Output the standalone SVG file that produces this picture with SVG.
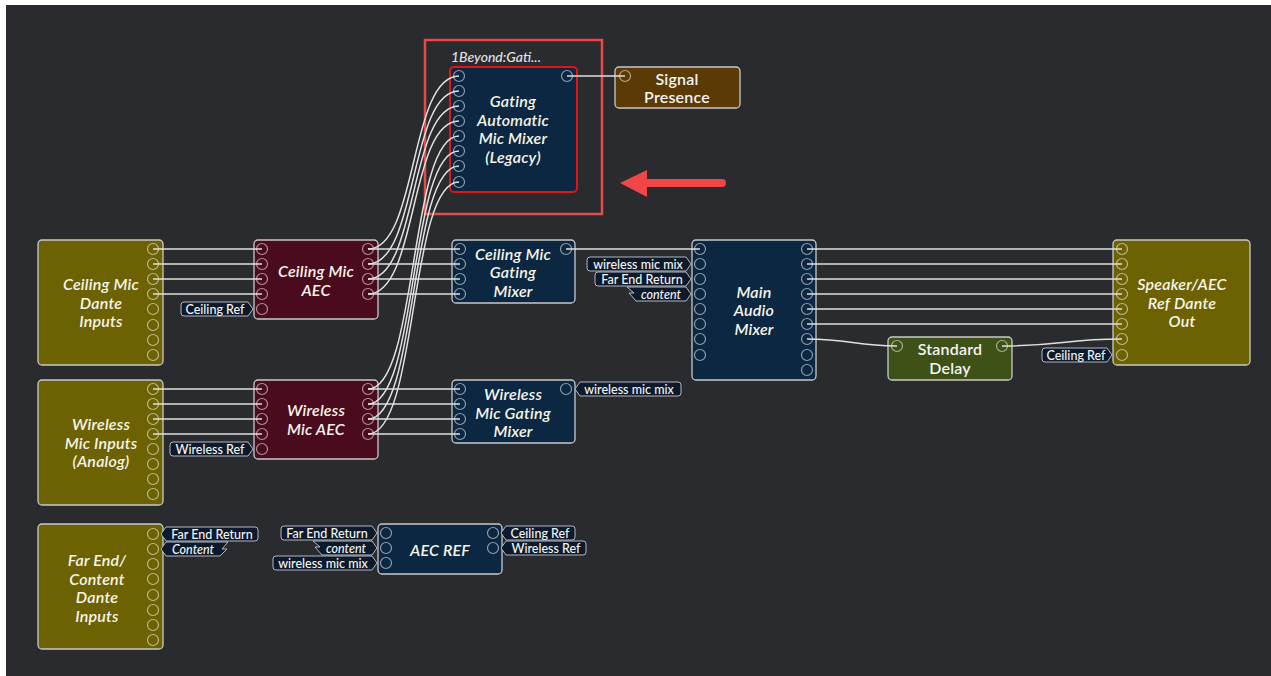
<svg xmlns="http://www.w3.org/2000/svg" width="1271" height="676" viewBox="0 0 1271 676">
<style>
.node{stroke:#c9c9c9;stroke-width:1.3}
.olive{fill:#6c6202}
.maroon{fill:#4b0b1f}
.navy{fill:#0b2741}
.brown{fill:#5c3a05}
.green{fill:#3e5116}
.port{fill:none;stroke:#ffffff;stroke-opacity:0.55;stroke-width:1.2}
.lbl{font-family:Lato,"Liberation Sans",sans-serif;font-size:16px;font-style:italic;font-weight:600;letter-spacing:0.2px;fill:#f6f4e8;text-anchor:middle}
.lbln{font-family:Lato,"Liberation Sans",sans-serif;font-size:16px;font-weight:600;letter-spacing:0.2px;fill:#f4f4f4;text-anchor:middle}
.tag{fill:#0d1a2c;stroke:#b3b8bf;stroke-width:1}
.tt{font-family:Lato,"Liberation Sans",sans-serif;font-size:12.5px;font-weight:500;fill:#f4f4f4;text-anchor:middle}
.ti{font-style:italic}
.wire{fill:none;stroke:#e0e0e0;stroke-width:1.5}
</style>
<rect x="0" y="0" width="1271" height="676" fill="#ffffff"/>
<rect x="6" y="5" width="1265" height="671" fill="#2a2b2f"/>

<g id="highlight">
<rect x="425" y="40" width="177" height="174" fill="none" stroke="#e84a4a" stroke-width="2.5"/>
<path d="M722 183 H645" stroke="#f04646" stroke-width="8" stroke-linecap="round"/>
<polygon points="620,183 647,170 647,197" fill="#f04646"/>
</g>

<g id="ceiling-mic-inputs">
<rect class="node olive" x="38" y="240" width="125" height="125" rx="4"/>
<text class="lbl" x="101" y="290">Ceiling Mic</text>
<text class="lbl" x="101" y="308.5">Dante</text>
<text class="lbl" x="101" y="327">Inputs</text>
<g class="port"><circle cx="153" cy="249" r="5.5"/><circle cx="153" cy="264" r="5.5"/><circle cx="153" cy="279" r="5.5"/><circle cx="153" cy="294" r="5.5"/><circle cx="153" cy="309" r="5.5"/><circle cx="153" cy="325" r="5.5"/><circle cx="153" cy="340" r="5.5"/><circle cx="153" cy="355" r="5.5"/></g>
</g>

<g id="ceiling-mic-aec">
<rect class="node maroon" x="254" y="240" width="124" height="79" rx="4"/>
<text class="lbl" x="316" y="277">Ceiling Mic</text>
<text class="lbl" x="316" y="295.5">AEC</text>
<g class="port"><circle cx="262" cy="249" r="5.5"/><circle cx="262" cy="264" r="5.5"/><circle cx="262" cy="279" r="5.5"/><circle cx="262" cy="294" r="5.5"/><circle cx="262" cy="309" r="5.5"/><circle cx="368" cy="249" r="5.5"/><circle cx="368" cy="264" r="5.5"/><circle cx="368" cy="279" r="5.5"/><circle cx="368" cy="294" r="5.5"/></g>
<path class="tag" d="M184 302 H248 L253 309 L248 316 H184 Q181 316 181 313 V305 Q181 302 184 302 Z"/>
<text class="tt" x="215" y="313.5">Ceiling Ref</text>
</g>

<g id="wireless-mic-inputs">
<rect class="node olive" x="38" y="380" width="125" height="125" rx="4"/>
<text class="lbl" x="101" y="430">Wireless</text>
<text class="lbl" x="101" y="448.5">Mic Inputs</text>
<text class="lbl" x="101" y="467">(Analog)</text>
<g class="port"><circle cx="153" cy="389" r="5.5"/><circle cx="153" cy="404" r="5.5"/><circle cx="153" cy="419" r="5.5"/><circle cx="153" cy="434" r="5.5"/><circle cx="153" cy="449" r="5.5"/><circle cx="153" cy="464" r="5.5"/><circle cx="153" cy="479" r="5.5"/><circle cx="153" cy="494" r="5.5"/></g>
</g>

<g id="wireless-mic-aec">
<rect class="node maroon" x="254" y="380" width="124" height="79" rx="4"/>
<text class="lbl" x="316" y="416">Wireless</text>
<text class="lbl" x="316" y="434.5">Mic AEC</text>
<g class="port"><circle cx="262" cy="389" r="5.5"/><circle cx="262" cy="404" r="5.5"/><circle cx="262" cy="419" r="5.5"/><circle cx="262" cy="434" r="5.5"/><circle cx="262" cy="449" r="5.5"/><circle cx="368" cy="389" r="5.5"/><circle cx="368" cy="404" r="5.5"/><circle cx="368" cy="419" r="5.5"/><circle cx="368" cy="434" r="5.5"/></g>
<path class="tag" d="M173 442 H248 L253 449 L248 456 H173 Q170 456 170 453 V445 Q170 442 173 442 Z"/>
<text class="tt" x="210" y="453.5">Wireless Ref</text>
</g>

<g id="far-end-inputs">
<rect class="node olive" x="38" y="524" width="125" height="125" rx="4"/>
<text class="lbl" x="97" y="566">Far End/</text>
<text class="lbl" x="97" y="584.5">Content</text>
<text class="lbl" x="97" y="603">Dante</text>
<text class="lbl" x="97" y="621.5">Inputs</text>
<g class="port"><circle cx="153" cy="534" r="5.5"/><circle cx="153" cy="549" r="5.5"/><circle cx="153" cy="564" r="5.5"/><circle cx="153" cy="579" r="5.5"/><circle cx="153" cy="595" r="5.5"/><circle cx="153" cy="610" r="5.5"/><circle cx="153" cy="625" r="5.5"/><circle cx="153" cy="640" r="5.5"/></g>
<path class="tag" d="M161 534 L166 527 H255 Q258 527 258 530 V538 Q258 541 255 541 H166 Z"/>
<text class="tt" x="212" y="538.5">Far End Return</text>
<path class="tag" d="M161 549 L166 542 H228 L222 549 H227 L220 556 H166 Z"/>
<text class="tt ti" x="193" y="553.5">Content</text>
</g>

<g id="aec-ref">
<rect class="node navy" x="378" y="524" width="124" height="50" rx="4"/>
<text class="lbl" x="440" y="556">AEC REF</text>
<g class="port"><circle cx="386" cy="533" r="5.5"/><circle cx="386" cy="548" r="5.5"/><circle cx="386" cy="563" r="5.5"/><circle cx="493" cy="533" r="5.5"/><circle cx="493" cy="548" r="5.5"/></g>
<path class="tag" d="M284 526 H372 L377 533 L372 540 H284 Q281 540 281 537 V529 Q281 526 284 526 Z"/>
<text class="tt" x="327" y="537.5">Far End Return</text>
<path class="tag" d="M313 541 L320 547 H315 L322 555 H372 L377 548 L372 541 Z"/>
<text class="tt ti" x="346" y="552.5">content</text>
<path class="tag" d="M276 556 H372 L377 563 L372 570 H276 Q273 570 273 567 V559 Q273 556 276 556 Z"/>
<text class="tt" x="323" y="567.5">wireless mic mix</text>
<path class="tag" d="M501 533 L506 526 H572 Q575 526 575 529 V537 Q575 540 572 540 H506 Z"/>
<text class="tt" x="540" y="537.5">Ceiling Ref</text>
<path class="tag" d="M501 548 L506 541 H583 Q586 541 586 544 V552 Q586 555 583 555 H506 Z"/>
<text class="tt" x="546" y="552.5">Wireless Ref</text>
</g>

<g id="gating-automatic-mixer">
<text x="451" y="62" font-family="Lato,'Liberation Sans',sans-serif" font-size="14" font-style="italic" font-weight="500" fill="#e2e2e2">1Beyond:Gati...</text>
<rect class="navy" x="450" y="67" width="127" height="125" rx="4" stroke="#e3131b" stroke-width="2"/>
<text class="lbl" x="513" y="107">Gating</text>
<text class="lbl" x="513" y="125.5">Automatic</text>
<text class="lbl" x="513" y="144">Mic Mixer</text>
<text class="lbl" x="513" y="162.5">(Legacy)</text>
<g class="port"><circle cx="459" cy="76" r="5.5"/><circle cx="459" cy="91" r="5.5"/><circle cx="459" cy="106" r="5.5"/><circle cx="459" cy="121" r="5.5"/><circle cx="459" cy="136" r="5.5"/><circle cx="459" cy="151" r="5.5"/><circle cx="459" cy="166" r="5.5"/><circle cx="459" cy="182" r="5.5"/><circle cx="567" cy="76" r="5.5"/></g>
</g>

<g id="signal-presence">
<rect class="node brown" x="615" y="67" width="125" height="41" rx="4"/>
<text class="lbln" x="677" y="84.5">Signal</text>
<text class="lbln" x="677" y="103">Presence</text>
<circle class="port" cx="625" cy="76" r="5.5"/>
</g>

<g id="ceiling-gating-mixer">
<rect class="node navy" x="452" y="240" width="123" height="63" rx="4"/>
<text class="lbl" x="513" y="259.5">Ceiling Mic</text>
<text class="lbl" x="513" y="278">Gating</text>
<text class="lbl" x="513" y="296.5">Mixer</text>
<g class="port"><circle cx="460" cy="249" r="5.5"/><circle cx="460" cy="264" r="5.5"/><circle cx="460" cy="279" r="5.5"/><circle cx="460" cy="294" r="5.5"/><circle cx="566" cy="249" r="5.5"/></g>
</g>

<g id="wireless-gating-mixer">
<rect class="node navy" x="452" y="380" width="123" height="63" rx="4"/>
<text class="lbl" x="513" y="400">Wireless</text>
<text class="lbl" x="513" y="418.5">Mic Gating</text>
<text class="lbl" x="513" y="437">Mixer</text>
<g class="port"><circle cx="460" cy="389" r="5.5"/><circle cx="460" cy="404" r="5.5"/><circle cx="460" cy="419" r="5.5"/><circle cx="460" cy="434" r="5.5"/><circle cx="566" cy="389" r="5.5"/></g>
<path class="tag" d="M575 389 L580 382 H678 Q681 382 681 385 V393 Q681 396 678 396 H580 Z"/>
<text class="tt" x="629" y="393.5">wireless mic mix</text>
</g>

<g id="main-audio-mixer">
<rect class="node navy" x="692" y="240" width="124" height="140" rx="4"/>
<text class="lbl" x="754" y="297.5">Main</text>
<text class="lbl" x="754" y="316">Audio</text>
<text class="lbl" x="754" y="334.5">Mixer</text>
<g class="port"><circle cx="700" cy="249" r="5.5"/><circle cx="700" cy="264" r="5.5"/><circle cx="700" cy="279" r="5.5"/><circle cx="700" cy="294" r="5.5"/><circle cx="700" cy="309" r="5.5"/><circle cx="700" cy="324" r="5.5"/><circle cx="700" cy="339" r="5.5"/><circle cx="700" cy="355" r="5.5"/>
<circle cx="807" cy="249" r="5.5"/><circle cx="807" cy="264" r="5.5"/><circle cx="807" cy="279" r="5.5"/><circle cx="807" cy="294" r="5.5"/><circle cx="807" cy="309" r="5.5"/><circle cx="807" cy="324" r="5.5"/><circle cx="807" cy="339" r="5.5"/><circle cx="807" cy="355" r="5.5"/><circle cx="807" cy="370" r="5.5"/></g>
<path class="tag" d="M590 257 H686 L691 264 L686 271 H590 Q587 271 587 268 V260 Q587 257 590 257 Z"/>
<text class="tt" x="638" y="268.5">wireless mic mix</text>
<path class="tag" d="M598 272 H686 L691 279 L686 286 H598 Q595 286 595 283 V275 Q595 272 598 272 Z"/>
<text class="tt" x="642" y="283.5">Far End Return</text>
<path class="tag" d="M627 287 L634 293 H629 L636 301 H686 L691 294 L686 287 Z"/>
<text class="tt ti" x="661" y="298.5">content</text>
</g>

<g id="standard-delay">
<rect class="node green" x="888" y="337" width="124" height="43" rx="4"/>
<text class="lbln" x="950" y="355">Standard</text>
<text class="lbln" x="950" y="373.5">Delay</text>
<g class="port"><circle cx="897" cy="346" r="5.5"/><circle cx="1002" cy="346" r="5.5"/></g>
</g>

<g id="speaker-out">
<rect class="node olive" x="1113" y="240" width="137" height="125" rx="4"/>
<text class="lbl" x="1182" y="290">Speaker/AEC</text>
<text class="lbl" x="1182" y="308.5">Ref Dante</text>
<text class="lbl" x="1182" y="327">Out</text>
<g class="port"><circle cx="1122" cy="249" r="5.5"/><circle cx="1122" cy="264" r="5.5"/><circle cx="1122" cy="279" r="5.5"/><circle cx="1122" cy="294" r="5.5"/><circle cx="1122" cy="309" r="5.5"/><circle cx="1122" cy="324" r="5.5"/><circle cx="1122" cy="339" r="5.5"/><circle cx="1122" cy="355" r="5.5"/></g>
<path class="tag" d="M1045 348 H1107 L1112 355 L1107 362 H1045 Q1042 362 1042 359 V351 Q1042 348 1045 348 Z"/>
<text class="tt" x="1076" y="359.5">Ceiling Ref</text>
</g>

<g id="connectors" class="wire">
<path d="M153 249 H262 M153 264 H262 M153 279 H262 M153 294 H262"/>
<path d="M153 389 H262 M153 404 H262 M153 419 H262 M153 434 H262"/>
<path d="M368 249 H460 M368 264 H460 M368 279 H460 M368 294 H460"/>
<path d="M368 389 H460 M368 404 H460 M368 419 H460 M368 434 H460"/>
<path d="M368 249 C418 249 409 76 459 76"/>
<path d="M368 264 C418 264 409 91 459 91"/>
<path d="M368 279 C418 279 409 106 459 106"/>
<path d="M368 294 C418 294 409 121 459 121"/>
<path d="M368 389 C418 389 409 136 459 136"/>
<path d="M368 404 C418 404 409 151 459 151"/>
<path d="M368 419 C418 419 409 166 459 166"/>
<path d="M368 434 C418 434 409 182 459 182"/>
<path d="M567 76 H625"/>
<path d="M566 249 H700"/>
<path d="M807 249 H1122 M807 264 H1122 M807 279 H1122 M807 294 H1122 M807 309 H1122 M807 324 H1122"/>
<path d="M807 339 C850 339 855 346 897 346"/>
<path d="M1002 346 C1060 346 1065 339 1122 339"/>
</g>
</svg>
